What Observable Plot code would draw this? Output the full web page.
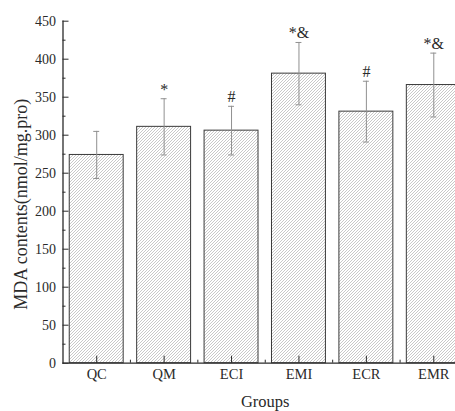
<!DOCTYPE html>
<html>
<head>
<meta charset="utf-8">
<script src="https://cdn.jsdelivr.net/npm/d3@7"></script>
<script src="https://cdn.jsdelivr.net/npm/@observablehq/plot@0.6"></script>
<style>
  html, body { margin: 0; padding: 0; background: #fff; overflow: hidden; }
  #chart { width: 455px; height: 411px; overflow: hidden; }
</style>
</head>
<body>
<div id="chart"></div>
<script>
const groups = ["QC", "QM", "ECI", "EMI", "ECR", "EMR"];
const means = [274, 311, 306, 381, 331, 366];
const sds = [31, 37, 32, 41, 40, 42];
const signif = ["", "*", "#", "*&", "#", "*&"];
const yTicks = [0, 50, 100, 150, 200, 250, 300, 350, 400, 450];
const yMinorTicks = [25, 75, 125, 175, 225, 275, 325, 375, 425];
const yLabel = "MDA contents(nmol/mg.pro)";
const xLabel = "Groups";

const data = groups.map((g, i) => ({group: g, mean: means[i], sd: sds[i], lo: means[i] - sds[i], hi: means[i] + sds[i], sig: signif[i]}));

const W = 467, H = 411, ML = 62.5, MR = 0, MT = 20.7, MB = 48.3;
const step = (W - ML - MR) / groups.length;
const font = "'Times New Roman', 'Liberation Serif', serif";
const ink = "#2a2a2a";

const chart = Plot.plot({
  width: W,
  height: H,
  marginLeft: ML,
  marginRight: MR,
  marginTop: MT,
  marginBottom: MB,
  style: {fontFamily: font, background: "#fff", maxWidth: "none", color: ink},
  x: {domain: groups, paddingInner: 0.2, paddingOuter: 0.1, round: false},
  y: {domain: [0, 450]},
  marks: [
    Plot.barY(data, {x: "group", y: "mean", fill: "url(#hatch)", stroke: "#3a3a3a", strokeWidth: 1}),
    Plot.ruleX(data, {x: "group", y1: "lo", y2: "hi", stroke: "#909090", strokeWidth: 1}),
    Plot.tickY(data, {x: "group", y: "hi", stroke: "#909090", insetLeft: 24, insetRight: 24}),
    Plot.tickY(data, {x: "group", y: "lo", stroke: "#909090", insetLeft: 24, insetRight: 24}),
    Plot.text(data, {x: "group", y: "hi", text: "sig", dy: -4, lineAnchor: "bottom", fontSize: 16, fill: ink}),
    Plot.ruleY([0], {stroke: ink, strokeWidth: 1.3}),
    Plot.frame({anchor: "left", stroke: ink, strokeWidth: 1.3}),
    Plot.axisY({ticks: yTicks, tickSize: -6, tickPadding: 13, fontSize: 14, label: null, stroke: ink, fill: ink}),
    Plot.axisY({ticks: yMinorTicks, tickSize: -3, tickFormat: () => "", label: null, stroke: ink}),
    Plot.axisX({tickSize: -7, tickPadding: 13, fontSize: 14.5, label: null, stroke: ink, fill: ink}),
    Plot.axisX({ticks: groups.slice(0, -1), tickSize: -3, tickFormat: () => "", label: null, dx: step / 2, stroke: ink}),
    Plot.text([yLabel], {frameAnchor: "left", textAnchor: "middle", lineAnchor: "middle", rotate: -90, dx: -42, dy: 12, fontSize: 18, fill: ink}),
    Plot.text([xLabel], {frameAnchor: "bottom", textAnchor: "middle", lineAnchor: "middle", dy: 38.5, fontSize: 16.5, fill: ink})
  ]
});

const svg = d3.select(chart);
const defs = svg.insert("defs", ":first-child");
const pat = defs.append("pattern")
  .attr("id", "hatch")
  .attr("patternUnits", "userSpaceOnUse")
  .attr("width", 3)
  .attr("height", 3);
pat.append("rect").attr("width", 3).attr("height", 3).attr("fill", "#fff");
pat.append("path")
  .attr("d", "M-1,1 L1,-1 M0,3 L3,0 M2,4 L4,2")
  .attr("stroke", "#b0b0b0")
  .attr("stroke-width", 0.7);

document.getElementById("chart").appendChild(chart);
</script>
</body>
</html>
